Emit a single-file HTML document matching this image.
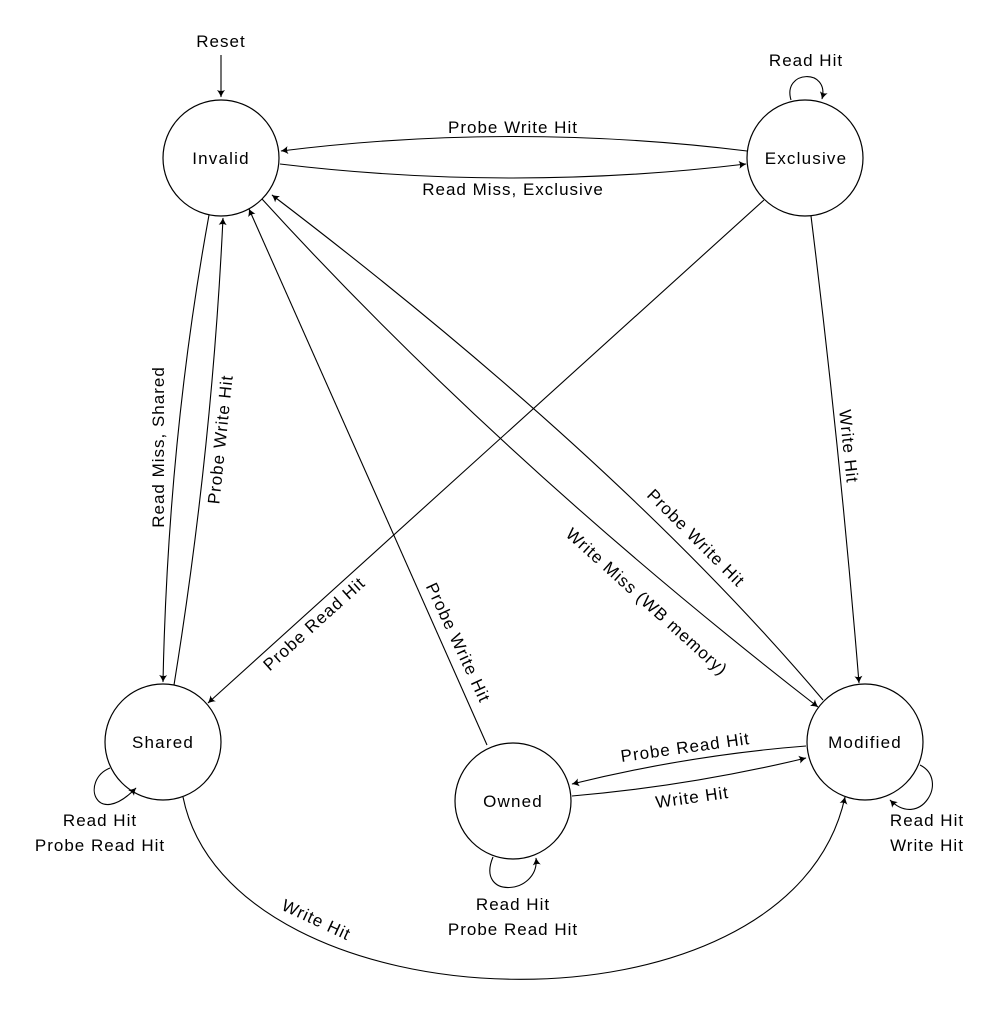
<!DOCTYPE html>
<html><head><meta charset="utf-8"><style>
html,body{margin:0;padding:0;background:#fff}
svg{display:block}
text{font-family:"Liberation Sans",sans-serif;font-size:17px;fill:#000;letter-spacing:1px}
.n{font-size:17px;letter-spacing:1.2px}
</style></head><body>
<svg width="990" height="1011" viewBox="0 0 990 1011" xmlns="http://www.w3.org/2000/svg">
<defs>
<marker id="a" markerWidth="12" markerHeight="12" refX="9" refY="5" orient="auto" markerUnits="userSpaceOnUse">
<path d="M2,1 Q6,4 9.5,5 Q6,6 2,9 Q4,5 2,1Z" fill="#000"/>
</marker>
</defs>
<g fill="none" stroke="#000" stroke-width="1.2">
<circle cx="221" cy="158" r="58"/>
<circle cx="805" cy="158" r="58"/>
<circle cx="163" cy="742" r="58"/>
<circle cx="513" cy="801" r="58"/>
<circle cx="865" cy="742" r="58"/>
</g>
<g fill="none" stroke="#000" stroke-width="1.1" marker-end="url(#a)">
<path d="M221,55 L221,97"/>
<path d="M747,151 Q513,122 281,151"/>
<path d="M280,164 Q513,192 746,164"/>
<path d="M791,100 C782,70 830,68 822,99"/>
<path d="M209,215 Q168,440 163,682"/>
<path d="M174,685 Q212,450 223,218"/>
<path d="M764,200 L208,703"/>
<path d="M487,745 L249,209"/>
<path d="M262,199 Q500,460 818,707"/>
<path d="M823,700 Q620,460 272,195"/>
<path d="M811,216 Q840,450 859,683"/>
<path d="M806,746 Q690,755 572,784"/>
<path d="M572,796 Q690,786 806,758"/>
<path d="M183,797 C230,1030 790,1050 845,797"/>
<path d="M110,768 C80,780 95,830 136,788"/>
<path d="M493,857 C475,900 540,895 536,858"/>
<path d="M920,765 C950,780 920,830 890,800"/>
</g>
<g text-anchor="middle">
<text class="n" x="221" y="164">Invalid</text>
<text class="n" x="806" y="164">Exclusive</text>
<text class="n" x="163" y="748">Shared</text>
<text class="n" x="513" y="807">Owned</text>
<text class="n" x="865" y="748">Modified</text>
<text x="221" y="47">Reset</text>
<text x="806" y="66">Read Hit</text>
<text x="513" y="133">Probe Write Hit</text>
<text x="513" y="195">Read Miss, Exclusive</text>
<text transform="translate(164,447) rotate(-90)">Read Miss, Shared</text>
<text transform="translate(226,440) rotate(-84)">Probe Write Hit</text>
<text transform="translate(318,628) rotate(-42)">Probe Read Hit</text>
<text transform="translate(453,645) rotate(65)">Probe Write Hit</text>
<text transform="translate(643,606) rotate(42)">Write Miss (WB memory)</text>
<text transform="translate(692,542) rotate(45)">Probe Write Hit</text>
<text transform="translate(843,447) rotate(84)">Write Hit</text>
<text transform="translate(686,753) rotate(-8)">Probe Read Hit</text>
<text transform="translate(693,803) rotate(-8)">Write Hit</text>
<text transform="translate(314,925) rotate(25)">Write Hit</text>
<text x="100" y="826">Read Hit</text>
<text x="100" y="851">Probe Read Hit</text>
<text x="513" y="910">Read Hit</text>
<text x="513" y="935">Probe Read Hit</text>
<text x="927" y="826">Read Hit</text>
<text x="927" y="851">Write Hit</text>
</g>
</svg>
</body></html>
